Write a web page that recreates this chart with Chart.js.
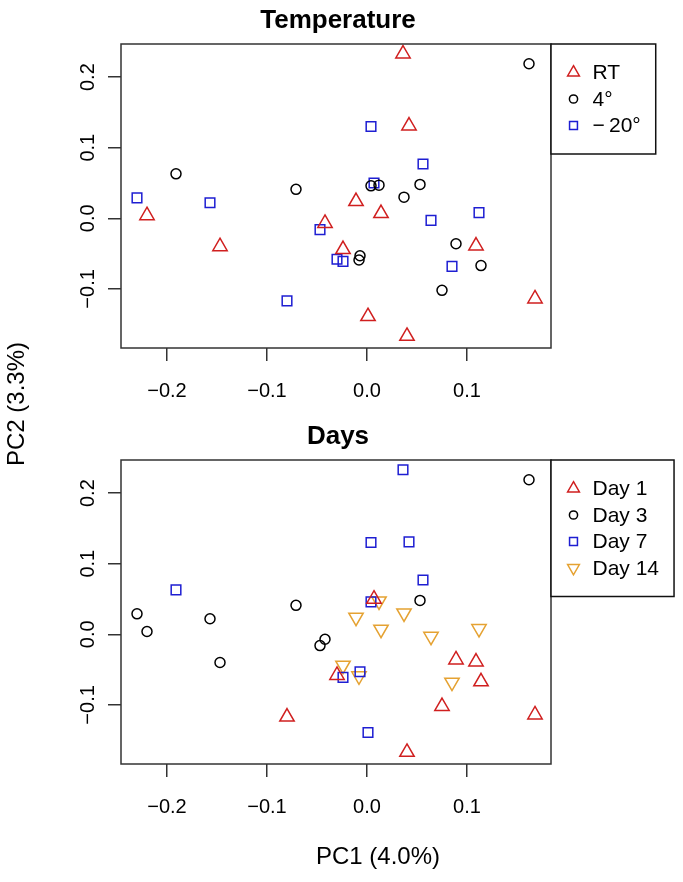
<!DOCTYPE html>
<html>
<head>
<meta charset="utf-8">
<script src="https://cdn.jsdelivr.net/npm/chart.js@4.4.0/dist/chart.umd.min.js"></script>
<style>
body{margin:0;background:#fff}
#wrap{position:relative;width:683px;height:882px}
canvas{position:absolute;left:0;top:0}
</style>
</head>
<body>
<div id="wrap">
<canvas id="c1" width="683" height="882"></canvas>
<canvas id="c2" width="683" height="882"></canvas>
</div>
<script>
//values (same 36 samples in both panels)
const pc1 = [0.036, 0.042, -0.220, -0.147, -0.011, 0.014, -0.042, -0.024, 0.109, 0.168, 0.001, 0.040,
             0.162, -0.191, -0.071, 0.004, 0.012, 0.053, 0.037, 0.089, 0.114, 0.075, -0.007, -0.008,
             0.004, 0.056, 0.007, -0.230, -0.157, -0.047, 0.064, 0.112, -0.030, -0.024, 0.085, -0.080];
const pc2 = [0.233, 0.131, 0.004, -0.040, 0.024, 0.007, -0.007, -0.044, -0.039, -0.114, -0.139, -0.167,
             0.219, 0.063, 0.041, 0.046, 0.047, 0.048, 0.030, -0.036, -0.067, -0.102, -0.053, -0.059,
             0.130, 0.077, 0.050, 0.029, 0.022, -0.016, -0.003, 0.008, -0.058, -0.061, -0.068, -0.117];
const temperature = ['RT','RT','RT','RT','RT','RT','RT','RT','RT','RT','RT','RT',
                     '4°','4°','4°','4°','4°','4°','4°','4°','4°','4°','4°','4°',
                     '−20°','−20°','−20°','−20°','−20°','−20°','−20°','−20°','−20°','−20°','−20°','−20°'];
const day = ['Day 7','Day 7','Day 3','Day 3','Day 14','Day 14','Day 3','Day 14','Day 1','Day 1','Day 7','Day 1',
             'Day 3','Day 7','Day 3','Day 7','Day 14','Day 3','Day 14','Day 1','Day 1','Day 1','Day 7','Day 14',
             'Day 7','Day 7','Day 1','Day 3','Day 3','Day 3','Day 14','Day 14','Day 1','Day 7','Day 14','Day 1'];
const tempGroups = ['RT', '4°', '−20°'];
const dayGroups = ['Day 1', 'Day 3', 'Day 7', 'Day 14'];
const xTicks = [-0.2, -0.1, 0.0, 0.1];
const yTicks = [-0.1, 0.0, 0.1, 0.2];

//marker look for each group position
const styles = [
    {pointStyle:'triangle', rotation:0, radius:8.3, color:'#D01F1F'},
    {pointStyle:'circle', rotation:0, radius:5, color:'#000000'},
    {pointStyle:'rect', rotation:0, radius:6.8, color:'#1E1ED2'},
    {pointStyle:'triangle', rotation:180, radius:8.3, color:'#E5A232'}
];

const FONT = "'Liberation Sans', Arial, Helvetica, sans-serif";
Chart.defaults.font.family = FONT;

function fmt(v)
{
    return v.toFixed(1).replace('-', '\u2212');
}

//builds one dataset for each group name
function makeSets(groups, key)
{
    return groups.map(function(g, k){
        var pts = [];
        for (var i = 0; i < pc1.length; i++)
        {
            if (key[i] == g) pts.push({x: pc1[i], y: pc2[i]});
        }
        var s = styles[k];
        return {
            label: g.replace('−', '\u2212\u2009'),
            data: pts,
            pointStyle: s.pointStyle,
            rotation: s.rotation,
            pointRadius: s.radius,
            borderColor: s.color,
            backgroundColor: 'rgba(0,0,0,0)',
            borderWidth: 1.5
        };
    });
}

function drawSym(ctx, ds, x, y, scale)
{
    var r = ds.pointRadius * scale;
    ctx.beginPath();
    if (ds.pointStyle == 'circle')
    {
        ctx.arc(x, y, r, 0, Math.PI * 2);
    }
    else if (ds.pointStyle == 'rect')
    {
        var s = r * Math.SQRT1_2;
        ctx.rect(x - s, y - s, 2 * s, 2 * s);
    }
    else
    {
        var rad = ds.rotation * Math.PI / 180;
        ctx.moveTo(x + Math.sin(rad) * r, y - Math.cos(rad) * r);
        rad += 2 * Math.PI / 3;
        ctx.lineTo(x + Math.sin(rad) * r, y - Math.cos(rad) * r);
        rad += 2 * Math.PI / 3;
        ctx.lineTo(x + Math.sin(rad) * r, y - Math.cos(rad) * r);
        ctx.closePath();
    }
    ctx.strokeStyle = ds.borderColor;
    ctx.lineWidth = 1.5;
    ctx.stroke();
}

//box, title, rotated y labels, legend (and axis titles on the lower panel)
function decorations(title, extra)
{
    return {
        id: 'deco',
        afterDraw: function(chart){
            var ctx = chart.ctx;
            var a = chart.chartArea;
            ctx.save();
            ctx.strokeStyle = '#333';
            ctx.lineWidth = 1.5;
            ctx.strokeRect(a.left, a.top, a.right - a.left, a.bottom - a.top);

            ctx.fillStyle = '#000';
            ctx.font = 'bold 26px ' + FONT;
            ctx.textAlign = 'center';
            ctx.textBaseline = 'alphabetic';
            ctx.fillText(title, 338, a.top - 16);

            var ys = chart.scales.y;
            ctx.font = '20px ' + FONT;
            ctx.textBaseline = 'middle';
            yTicks.forEach(function(v){
                ctx.save();
                ctx.translate(88, ys.getPixelForValue(v));
                ctx.rotate(-Math.PI / 2);
                ctx.fillText(fmt(v), 0, 0);
                ctx.restore();
            });

            //legend
            var sets = chart.data.datasets;
            ctx.font = '21px ' + FONT;
            var tw = 0;
            sets.forEach(function(ds){ tw = Math.max(tw, ctx.measureText(ds.label).width); });
            var lx = a.right, ly = a.top;
            var lw = 41.5 + tw + 15;
            var lh = 57 + (sets.length - 1) * 26.5;
            ctx.fillStyle = '#fff';
            ctx.fillRect(lx, ly, lw, lh);
            ctx.strokeStyle = '#111';
            ctx.lineWidth = 1.5;
            ctx.strokeRect(lx, ly, lw, lh);
            ctx.textAlign = 'left';
            ctx.fillStyle = '#000';
            sets.forEach(function(ds, k){
                var yy = ly + 28.5 + k * 26.5;
                drawSym(ctx, ds, lx + 22.5, yy, 0.82);
                ctx.fillText(ds.label, lx + 41.5, yy + 1);
            });

            if (extra)
            {
                ctx.font = '24px ' + FONT;
                ctx.textAlign = 'center';
                ctx.textBaseline = 'middle';
                ctx.fillText('PC1 (4.0%)', 378, 857);
                ctx.save();
                ctx.translate(17, 404);
                ctx.rotate(-Math.PI / 2);
                ctx.fillText('PC2 (3.3%)', 0, 0);
                ctx.restore();
            }
            ctx.restore();
        }
    };
}

function panel(id, sets, top, bottom, title, extra)
{
    return new Chart(document.getElementById(id), {
        type: 'scatter',
        data: {datasets: sets},
        options: {
            responsive: false,
            animation: false,
            devicePixelRatio: 1,
            events: [],
            layout: {padding: {top: top, right: 132, left: 0, bottom: 0}},
            plugins: {legend: {display: false}, tooltip: {enabled: false}},
            scales: {
                x: {
                    type: 'linear',
                    min: -0.246,
                    max: 0.184,
                    afterBuildTicks: function(s){ s.ticks = xTicks.map(function(v){ return {value: v}; }); },
                    afterFit: function(s){ s.height = 882 - bottom; },
                    border: {display: false},
                    grid: {drawOnChartArea: false, tickLength: 13, color: '#333', lineWidth: 1.5},
                    ticks: {
                        color: '#000',
                        font: {size: 20},
                        padding: 18,
                        maxRotation: 0,
                        autoSkip: false,
                        callback: function(v){ return fmt(v); }
                    }
                },
                y: {
                    type: 'linear',
                    min: -0.1837,
                    max: 0.2469,
                    afterBuildTicks: function(s){ s.ticks = yTicks.map(function(v){ return {value: v}; }); },
                    afterFit: function(s){ s.width = 121; },
                    border: {display: false},
                    grid: {drawOnChartArea: false, tickLength: 13, color: '#333', lineWidth: 1.5},
                    ticks: {display: false}
                }
            }
        },
        plugins: [decorations(title, extra)]
    });
}

panel('c1', makeSets(tempGroups, temperature), 44, 348, 'Temperature', false);
panel('c2', makeSets(dayGroups, day), 460, 764, 'Days', true);
</script>
</body>
</html>
